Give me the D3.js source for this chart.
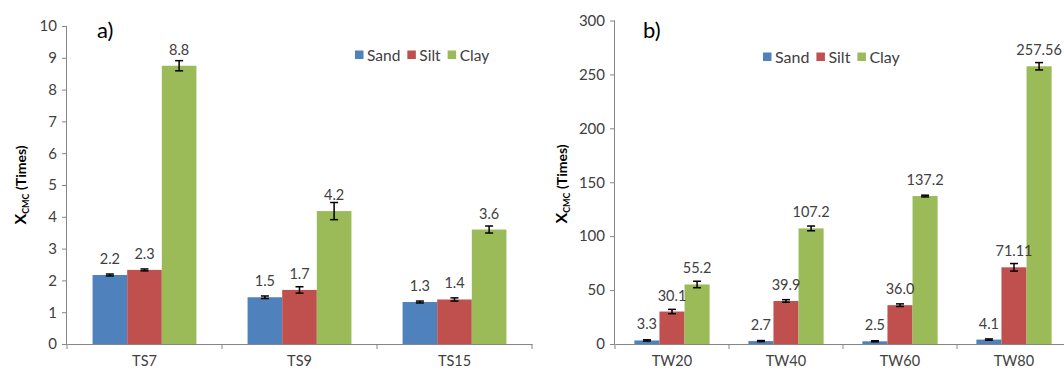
<!DOCTYPE html>
<html>
<head>
<meta charset="utf-8">
<script src="https://cdn.jsdelivr.net/npm/d3@7"></script>
<style>
  body { margin: 0; background: #fff; }
  text { font-family: Lato, "Open Sans", sans-serif; }
</style>
</head>
<body>
<div class="graphContainer"></div>
<script>
// data
const seriesNames = ["Sand", "Silt", "Clay"];
const colors = ["#4f81bd", "#c0504d", "#9bbb59"];

const tsCategories = ["TS7", "TS9", "TS15"];
const tsSand = [2.17, 1.47, 1.32];
const tsSilt = [2.33, 1.70, 1.40];
const tsClay = [8.75, 4.18, 3.60];
const tsSandErr = [0.03, 0.04, 0.03];
const tsSiltErr = [0.03, 0.10, 0.05];
const tsClayErr = [0.16, 0.27, 0.11];
const tsLabels = [["2.2", "1.5", "1.3"], ["2.3", "1.7", "1.4"], ["8.8", "4.2", "3.6"]];
const tsTicks = [0, 1, 2, 3, 4, 5, 6, 7, 8, 9, 10];

const twCategories = ["TW20", "TW40", "TW60", "TW80"];
const twSand = [3.3, 2.7, 2.5, 4.1];
const twSilt = [30.1, 39.9, 36.0, 71.11];
const twClay = [55.2, 107.2, 137.2, 257.56];
const twSandErr = [0.6, 0.5, 0.5, 0.6];
const twSiltErr = [2.0, 1.2, 1.2, 3.5];
const twClayErr = [3.0, 2.2, 0.8, 3.4];
const twLabels = [["3.3", "2.7", "2.5", "4.1"], ["30.1", "39.9", "36.0", "71.11"], ["55.2", "107.2", "137.2", "257.56"]];
const twTicks = [0, 50, 100, 150, 200, 250, 300];

const w = 1064, h = 374;

const svg = d3.select(".graphContainer")
  .append("svg")
  .attr("width", w)
  .attr("height", h);

function panel(opts) {
  const g = svg.append("g");
  const vals = [opts.sand, opts.silt, opts.clay];
  const errs = [opts.sandErr, opts.siltErr, opts.clayErr];

  const x = d3.scaleBand()
    .domain(opts.categories)
    .range(opts.xRange)
    .paddingInner(opts.pad)
    .paddingOuter(opts.pad / 2);

  const xs = d3.scaleBand()
    .domain(d3.range(3))
    .range([0, x.bandwidth()]);

  const y = d3.scaleLinear()
    .domain(opts.yDomain)
    .range(opts.yRange);

  // bars
  const rows = [];
  opts.categories.forEach(function (c, i) {
    for (let s = 0; s < 3; s++) {
      rows.push({ c: c, s: s, v: vals[s][i], e: errs[s][i], label: opts.labels[s][i] });
    }
  });

  g.selectAll("rect.bar")
    .data(rows)
    .enter()
    .append("rect")
    .attr("class", "bar")
    .attr("x", function (d) { return x(d.c) + xs(d.s); })
    .attr("width", xs.bandwidth())
    .attr("y", function (d) { return y(d.v); })
    .attr("height", function (d) { return y(0) - y(d.v); })
    .attr("fill", function (d) { return colors[d.s]; });

  // error bars
  const eb = g.selectAll("g.err")
    .data(rows)
    .enter()
    .append("g")
    .attr("stroke", "#000")
    .attr("stroke-width", 1.5);
  eb.append("line")
    .attr("x1", function (d) { return x(d.c) + xs(d.s) + xs.bandwidth() / 2; })
    .attr("x2", function (d) { return x(d.c) + xs(d.s) + xs.bandwidth() / 2; })
    .attr("y1", function (d) { return y(d.v + d.e); })
    .attr("y2", function (d) { return y(d.v - d.e); });
  [1, -1].forEach(function (sign) {
    eb.append("line")
      .attr("x1", function (d) { return x(d.c) + xs(d.s) + xs.bandwidth() / 2 - 4; })
      .attr("x2", function (d) { return x(d.c) + xs(d.s) + xs.bandwidth() / 2 + 4; })
      .attr("y1", function (d) { return y(d.v + sign * d.e); })
      .attr("y2", function (d) { return y(d.v + sign * d.e); });
  });

  // value labels
  g.selectAll("text.val")
    .data(rows)
    .enter()
    .append("text")
    .attr("x", function (d) { return x(d.c) + xs(d.s) + xs.bandwidth() / 2; })
    .attr("y", function (d) { return y(d.v) - 11; })
    .attr("text-anchor", "middle")
    .attr("font-size", 14.5)
    .attr("fill", "#404040")
    .text(function (d) { return d.label; });

  // y axis
  const yAxis = d3.axisLeft(y).tickValues(opts.ticks).tickSize(5).tickPadding(5);
  const ya = g.append("g")
    .attr("transform", "translate(" + opts.xRange[0] + ",0)")
    .call(yAxis);
  ya.select(".domain").attr("stroke", "#868686").attr("d", "M-0.5," + y(0) + "V" + y(opts.yDomain[1]));
  ya.selectAll(".tick line").attr("stroke", "#868686");
  ya.selectAll(".tick text").attr("font-size", 15).attr("fill", "#404040")
    .style("font-family", "Lato, 'Open Sans', sans-serif");

  // x axis
  const xAxis = d3.axisBottom(x).tickSize(0).tickPadding(12);
  const xa = g.append("g")
    .attr("transform", "translate(0," + y(0) + ")")
    .call(xAxis);
  xa.select(".domain").attr("stroke", "#868686");
  xa.selectAll(".tick text").attr("font-size", 14.5).attr("fill", "#404040")
    .style("font-family", "Lato, 'Open Sans', sans-serif");
  // category boundary ticks
  const bounds = d3.range(opts.categories.length + 1).map(function (i) {
    return opts.xRange[0] + i * x.step();
  });
  xa.selectAll("line.bound")
    .data(bounds)
    .enter()
    .append("line")
    .attr("x1", function (d) { return d; })
    .attr("x2", function (d) { return d; })
    .attr("y1", 0)
    .attr("y2", 5)
    .attr("stroke", "#868686");

  // y title
  const t = g.append("text")
    .attr("transform", "translate(" + opts.titleX + "," + opts.titleY + ") rotate(-90)")
    .attr("text-anchor", "middle")
    .attr("font-weight", "bold")
    .attr("fill", "#000");
  t.append("tspan").attr("font-size", 16).text("X");
  t.append("tspan").attr("font-size", 9).attr("dy", 3).text("CMC");
  t.append("tspan").attr("font-size", 14).attr("dy", -3).text(" (Times)");

  // panel letter
  g.append("text")
    .attr("x", opts.letterX)
    .attr("y", 38)
    .attr("font-size", 22)
    .attr("fill", "#000")
    .text(opts.letter);

  // legend
  const lg = g.append("g")
    .attr("transform", "translate(" + opts.legendX + "," + opts.legendY + ")");
  let lx = 0;
  seriesNames.forEach(function (name, i) {
    lg.append("rect")
      .attr("x", lx)
      .attr("y", -4.5)
      .attr("width", 8.5)
      .attr("height", 8.5)
      .attr("fill", colors[i]);
    const tx = lg.append("text")
      .attr("x", lx + 12)
      .attr("y", 5.5)
      .attr("font-size", opts.legendFont)
      .attr("fill", "#404040")
      .text(name);
    lx += 12 + tx.node().getComputedTextLength() + 7;
  });
}

panel({
  categories: tsCategories,
  sand: tsSand, silt: tsSilt, clay: tsClay,
  sandErr: tsSandErr, siltErr: tsSiltErr, clayErr: tsClayErr,
  labels: tsLabels, ticks: tsTicks,
  xRange: [67, 532], pad: 0.33,
  yDomain: [0, 10], yRange: [344, 26],
  titleX: 26, titleY: 185,
  letter: "a)", letterX: 97,
  legendX: 355, legendY: 55, legendFont: 15.5
});

panel({
  categories: twCategories,
  sand: twSand, silt: twSilt, clay: twClay,
  sandErr: twSandErr, siltErr: twSiltErr, clayErr: twClayErr,
  labels: twLabels, ticks: twTicks,
  xRange: [615, 1071], pad: 0.34,
  yDomain: [0, 300], yRange: [344, 20.5],
  titleX: 567, titleY: 184,
  letter: "b)", letterX: 643,
  legendX: 763, legendY: 57, legendFont: 16
});
</script>
</body>
</html>
